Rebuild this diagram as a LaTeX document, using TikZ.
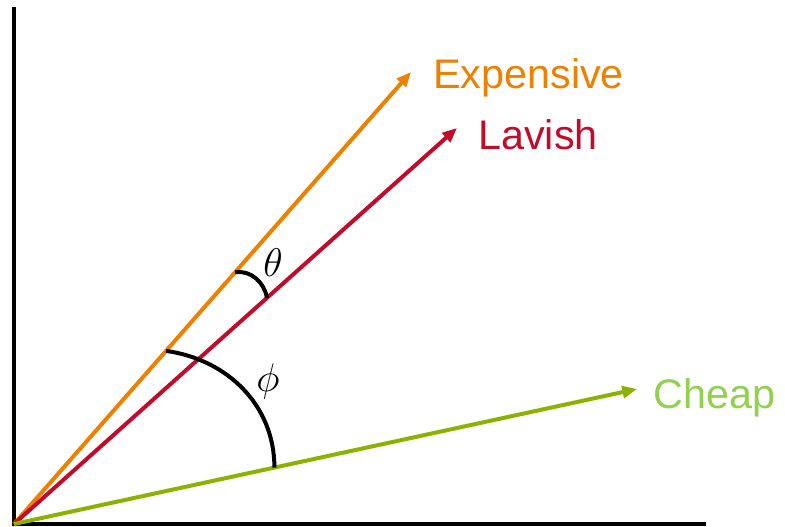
\RequirePackage{fix-cm}
\documentclass[tikz,border=0pt]{standalone}
\usepackage{fontspec}
\setmainfont{Liberation Sans}
\usetikzlibrary{arrows.meta, positioning}

\definecolor{expcol}{RGB}{238,128,0}
\definecolor{lavcol}{RGB}{192,12,42}
\definecolor{chpline}{RGB}{140,178,0}
\definecolor{chptext}{RGB}{146,208,80}

\begin{document}
\begin{tikzpicture}[
    x=0.75pt, y=-0.75pt,
    axis/.style={line width=3.2pt, line join=miter},
    vec/.style={line width=3pt, -{Triangle[length=11pt, width=9pt]}},
    word/.style={font=\fontsize{31}{36}\selectfont, anchor=base west, inner sep=0pt},
    angarc/.style={line width=3pt},
    greek/.style={font=\fontsize{30}{36}\selectfont, inner sep=0pt}
]
    \useasboundingbox (0,0) rectangle (785,527);

    % axes
    \coordinate (O) at (14,524);
    \coordinate (ytop) at (14,7);
    \coordinate (xend) at (706,524);
    \draw[axis] (ytop) -- (O) -- (xend);

    % word vectors
    \coordinate (tipE) at (411,72);
    \coordinate (tipL) at (457,128);
    \coordinate (tipC) at (637,389);
    \draw[vec, expcol] (O) -- (tipE) coordinate[pos=0.557] (th1) coordinate[pos=0.383] (ph1);
    \draw[vec, lavcol] (O) -- (tipL) coordinate[pos=0.571] (th2);
    \draw[vec, chpline] (O) -- (tipC) coordinate[pos=0.418] (ph2);

    \node[word, text=expcol] (expensive) at (433,89) {Expensive};
    \node[word, text=lavcol] (lavish) at (478,150) {Lavish};
    \node[word, text=chptext] (cheap) at (653,408) {Cheap};

    % angles
    \draw[angarc] (th1) to[out=8, in=100] (th2);
    \draw[angarc] (ph1) to[out=-8, in=90] (ph2);
    \node[greek] (theta) at (273,263) {$\theta$};
    \node[greek] (phi) at (268,381) {$\phi$};
\end{tikzpicture}
\end{document}
